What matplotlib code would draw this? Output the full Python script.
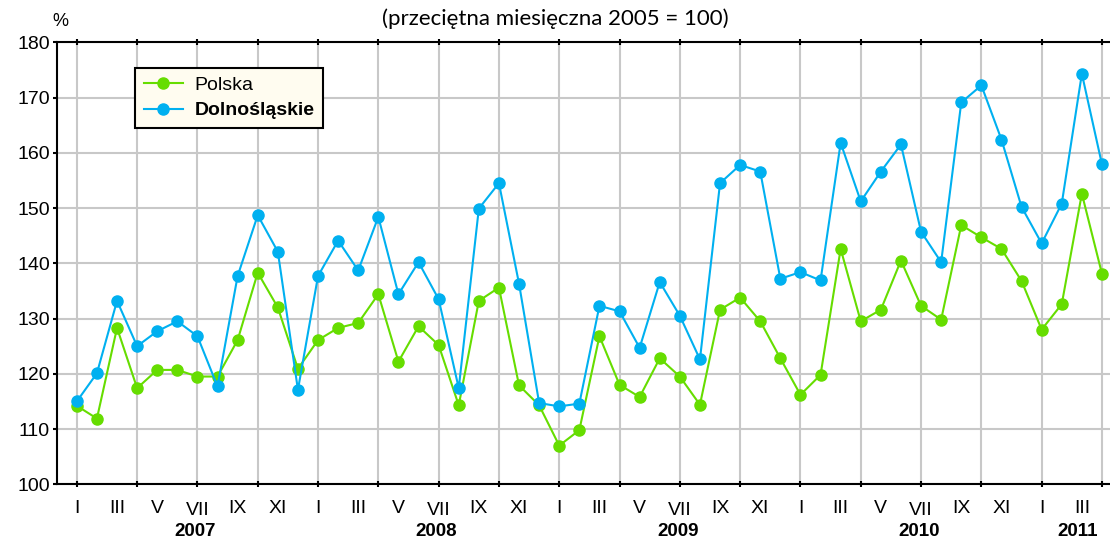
import matplotlib
matplotlib.use("Agg")
import matplotlib.pyplot as plt
import matplotlib.transforms as mtransforms

plt.rcParams['font.family'] = ['Liberation Sans', 'DejaVu Sans']

# --- Data: monthly index (average monthly 2005 = 100), I 2007 .. IV 2011 ---
polska = [114.2, 111.9, 128.3, 117.4, 120.7, 120.7, 119.5, 119.5, 126.1, 138.3, 132.0, 120.9,
          126.1, 128.3, 129.2, 134.4, 122.2, 128.6, 125.2, 114.3, 133.2, 135.6, 117.9, 114.3,
          107.0, 109.8, 126.8, 118.0, 115.8, 122.8, 119.5, 114.4, 131.6, 133.8, 129.5, 122.8,
          116.2, 119.8, 142.6, 129.5, 131.6, 140.5, 132.3, 129.8, 146.9, 144.7, 142.6, 136.8,
          128.0, 132.6, 152.6, 138.1]
dolnoslaskie = [115.0, 120.1, 133.2, 125.0, 127.7, 129.5, 126.8, 117.7, 137.7, 148.7, 142.1, 117.1,
                137.7, 144.1, 138.7, 148.4, 134.4, 140.2, 133.5, 117.4, 149.9, 154.5, 136.3, 114.7,
                114.1, 114.6, 132.3, 131.3, 124.7, 136.6, 130.5, 122.6, 154.5, 157.8, 156.6, 137.2,
                138.4, 136.9, 161.8, 151.2, 156.6, 161.5, 145.7, 140.2, 169.1, 172.2, 162.4, 150.2,
                143.6, 150.8, 174.3, 157.9]
month_labels = ['I', 'III', 'V', 'VII', 'IX', 'XI']
years = ['2007', '2008', '2009', '2010', '2011']
year_pos = [5.9, 17.9, 29.9, 41.9, 49.8]

x = list(range(len(polska)))

fig = plt.figure(figsize=(11.1, 5.42), dpi=100)
ax = fig.add_axes([0.0511, 0.1065, 0.9489, 0.8155])

green = '#66DD00'
blue = '#00B0F0'
ax.plot(x, polska, color=green, lw=1.5, marker='o', ms=8, label='Polska', zorder=3)
ax.plot(x, dolnoslaskie, color=blue, lw=1.5, marker='o', ms=8, label='Dolnośląskie', zorder=4)

ax.set_xlim(-1, 51.4)
ax.set_ylim(100, 180)
ax.set_yticks(range(100, 181, 10))

# grid every quarter, labels every second month
ax.xaxis.remove_overlapping_locs = False
ax.set_xticks(range(0, 52, 3))
ax.set_xticklabels([])
ax.set_xticks(range(0, 52, 2), minor=True)
lab = [month_labels[(i % 12) // 2] for i in range(0, 52, 2)]
ax.set_xticklabels(lab, minor=True)
ax.tick_params(axis='x', which='minor', length=0, pad=11, labelsize=14)
for t in ax.xaxis.get_minor_ticks():
    if t.label1.get_text() == 'VII':
        t.set_pad(13)
ax.tick_params(axis='x', which='major', direction='inout', length=5, width=1.5,
               top=True, labeltop=False)
ax.tick_params(axis='y', which='major', direction='out', length=3, width=1.5,
               pad=2, labelsize=14)

ax.grid(True, which='major', color='#C8C8C8', lw=1.5)
ax.set_axisbelow(True)

for s in ['left', 'bottom', 'top']:
    ax.spines[s].set_linewidth(1.5)
    ax.spines[s].set_color('black')
ax.spines['right'].set_visible(False)

trans = mtransforms.blended_transform_factory(ax.transData, ax.transAxes)
for xp, yr in zip(year_pos, years):
    ax.text(xp, -0.118, yr, transform=trans, ha='center', va='baseline',
            fontsize=13.5, fontweight='bold')

leg = ax.legend(loc='upper left', bbox_to_anchor=(0.0743, 0.9425), borderaxespad=0,
                fancybox=False, edgecolor='black', facecolor='#FFFCF0', framealpha=1,
                fontsize=14, handlelength=2.0, borderpad=0.45, labelspacing=0.4,
                handletextpad=0.6)
leg.get_frame().set_linewidth(1.5)
leg.get_texts()[1].set_fontweight('bold')

fig.text(0.5, 0.966, '(przeciętna miesięczna 2005 = 100)', ha='center', va='center',
         fontsize=16, family=['Lato', 'DejaVu Sans'])
fig.text(0.054, 0.96, '%', ha='center', va='center', fontsize=13)

fig.savefig('out.png', dpi=100)
